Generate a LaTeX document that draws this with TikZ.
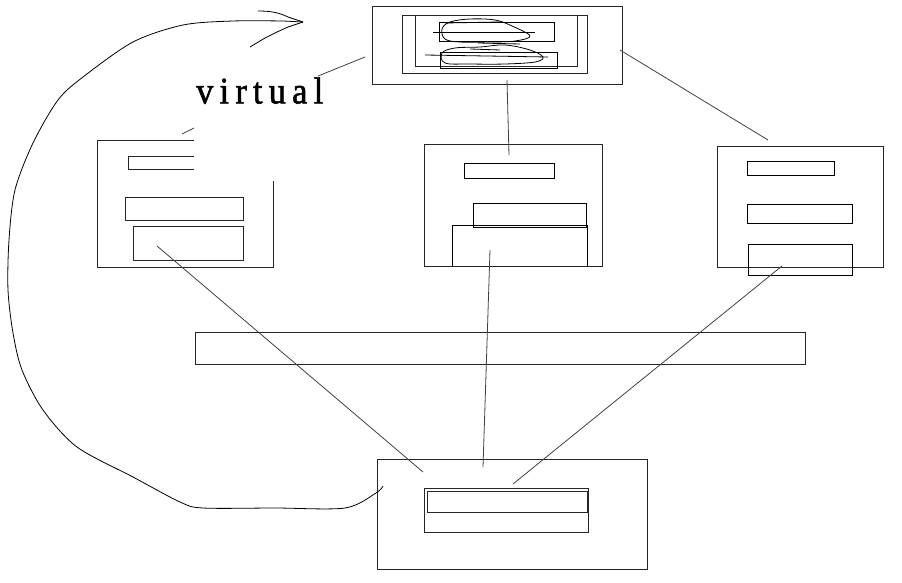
\documentclass[tikz,border=0pt]{standalone}
\usepackage{fontspec}
\newfontfamily\virtfont[LetterSpace=18,FakeBold=1.5]{Liberation Serif}
\begin{document}
\begin{tikzpicture}[x=1pt,y=-1pt,
  box/.style={draw=black!85, line width=1pt, inner sep=0pt, outer sep=0pt, anchor=north west},
  thinbox/.style={draw=black, line width=0.8pt, inner sep=0pt, outer sep=0pt, anchor=north west},
  conn/.style={draw=black!75, line width=0.8pt},
  hand/.style={draw=black, line width=0.8pt, line join=round}]
\useasboundingbox (0,0) rectangle (902,583);
% ---- top box
\node[box, minimum width=250pt, minimum height=78pt] (top) at (372,7) {};
\node[box, minimum width=185pt, minimum height=58pt] (top2) at (402,16) {};
\node[box, minimum width=162pt, minimum height=51pt] (top3) at (415,16) {};
\node[thinbox, minimum width=115pt, minimum height=19pt] (topa) at (439,22) {};
\node[thinbox, minimum width=117pt, minimum height=16pt] (topb) at (440,52) {};
% scribbles
\draw[hand] plot[smooth cycle, tension=0.6] coordinates {(442,29) (450,22) (470,19) (495,20) (512,26) (530,36) (515,41) (490,42) (460,42) (445,39)};
\draw[hand] (433,32) -- (535,32);
\draw[hand] (445,23) -- (500,22);
\draw[hand] plot[smooth cycle, tension=0.6] coordinates {(442,53) (455,48) (480,47) (505,45) (530,50) (543,57) (535,62) (505,64) (470,64) (445,63)};
\draw[hand] (425,55) -- (548,57);
\draw[hand] (470,49) -- (500,50);
\draw[hand] (478,43) -- (520,44);
% ---- left box
\coordinate (lbtl) at (194,141);
\draw[conn, draw=black!85, line width=1pt] (lbtl) -- (97,141) -- (97,267) -- (273,267) -- (273,181);
\draw[conn, draw=black!85, line width=1pt] (194,156) -- (128,156) -- (128,169) -- (194,169);
\node[box, minimum width=118pt, minimum height=23pt] (lb2) at (125,197) {};
\node[box, minimum width=110pt, minimum height=34pt] (lb3) at (133,226) {};
% ---- middle box
\node[box, minimum width=178pt, minimum height=121pt] (mid) at (424,145) {};
\node[thinbox, minimum width=90pt, minimum height=15pt] (mida) at (464,163) {};
\node[thinbox, minimum width=113pt, minimum height=24pt] (midb) at (473,203) {};
\draw[hand] (452,266) -- (452,225) -- (587,225) -- (587,266);
% ---- right box
\node[box, minimum width=166pt, minimum height=120pt] (rb) at (717,147) {};
\node[thinbox, minimum width=87pt, minimum height=14pt] (rba) at (747,161) {};
\node[thinbox, minimum width=105pt, minimum height=19pt] (rbb) at (747,204) {};
\node[thinbox, minimum width=104pt, minimum height=31pt] (rbc) at (748,244) {};
% ---- bar
\node[box, minimum width=610pt, minimum height=32pt] (bar) at (195,332) {};
% ---- bottom box
\node[box, minimum width=270pt, minimum height=110pt] (bot) at (377,459) {};
\node[box, minimum width=164pt, minimum height=44pt] (bota) at (424,488) {};
\node[box, minimum width=160pt, minimum height=21pt] (botb) at (427,491) {};
% ---- label
\node[inner sep=0pt, anchor=south west] (virt) at (196,104) {\resizebox{127pt}{26pt}{\virtfont virtual}};
% ---- connectors
\coordinate (c1a) at (318,76); \coordinate (c1b) at (365,57);
\draw[conn] (c1a) -- (c1b);
\coordinate (c2a) at (507,80); \coordinate (c2b) at (509,155);
\draw[conn] (c2a) -- (c2b);
\coordinate (c3a) at (620,50); \coordinate (c3b) at (768,140);
\draw[conn] (c3a) -- (c3b);
\coordinate (c4a) at (182,134); \coordinate (c4b) at (194,128);
\draw[conn] (c4a) -- (c4b);
\coordinate (l1a) at (157,246); \coordinate (l1b) at (423,472);
\draw[conn] (l1a) -- (l1b);
\coordinate (l2a) at (490,250); \coordinate (l2b) at (483,467);
\draw[conn] (l2a) -- (l2b);
\coordinate (l3a) at (782,266); \coordinate (l3b) at (513,484);
\draw[conn] (l3a) -- (l3b);
% ---- big curved arrow
\coordinate (tip) at (303,22);
\draw[hand] plot[smooth, tension=0.5] coordinates {(383,486) (376,493) (345,508) (275,508) (203,508) (180,502) (133,477) (77,447) (43,410) (22,370) (13,333) (8,290) (9,240) (15,190) (33,143) (58,100) (83,77) (133,42) (183,25) (233,21) (283,21)} -- (tip);
\draw[hand] (258,11) .. controls (272,11) and (280,13) .. (288,17) -- (tip);
\draw[hand] (tip) -- (288,27) -- (277,32) -- (265,38) -- (250,47);
\end{tikzpicture}
\end{document}
